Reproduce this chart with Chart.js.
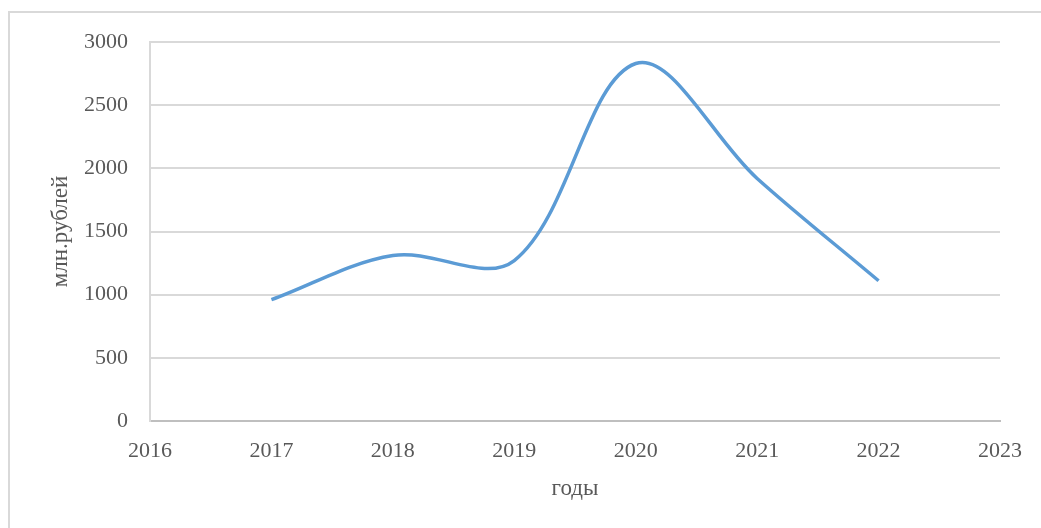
<!DOCTYPE html>
<html>
<head>
<meta charset="utf-8">
<script src="https://cdn.jsdelivr.net/npm/chart.js@4"></script>
<style>
  html, body { margin: 0; padding: 0; background: #fff; }
  #wrap { position: relative; width: 1041px; height: 528px; }
  #frame { position: absolute; left: 8px; top: 11px; right: -5px; bottom: -5px; border: 2px solid #d9d9d9; }
  canvas { position: absolute; left: 0; top: 0; }
</style>
</head>
<body>
<div id="wrap">
  <div id="frame"></div>
  <canvas id="linechart" width="1041" height="528"></canvas>
</div>
<script>
// данные
var years = [2017, 2018, 2019, 2020, 2021, 2022];
var values = [960, 1310, 1270, 2830, 1920, 1110];
var yTicks = [0, 500, 1000, 1500, 2000, 2500, 3000];
var xTicks = [2016, 2017, 2018, 2019, 2020, 2021, 2022, 2023];

var points = years.map(function(y, i) { return { x: y, y: values[i] }; });
var font = { family: 'Liberation Serif', size: 22 };
var titleFont = { family: 'Liberation Serif', size: 23 };

var ctx = document.getElementById('linechart').getContext('2d');
var myChart = new Chart(ctx, {
  type: 'line',
  data: {
    datasets: [{
      data: points,
      borderColor: '#5b9bd5',
      borderWidth: 3.5,
      pointRadius: 0,
      tension: 0.35,
      fill: false
    }]
  },
  options: {
    responsive: false,
    animation: false,
    layout: { padding: { top: 42, right: 41, left: 0, bottom: 0 } },
    plugins: { legend: { display: false }, tooltip: { enabled: false } },
    scales: {
      x: {
        type: 'linear',
        min: xTicks[0],
        max: xTicks[xTicks.length - 1],
        afterBuildTicks: function(s) { s.ticks = xTicks.map(function(v) { return { value: v }; }); },
        afterFit: function(s) { s.height = 107; },
        grid: { display: false, drawTicks: false },
        border: { display: true, color: '#bfbfbf', width: 2 },
        ticks: {
          color: '#595959', font: font, padding: 17, maxRotation: 0,
          callback: function(v) { return String(v); }
        },
        title: { display: true, text: 'годы', color: '#595959', font: titleFont, padding: { top: 0, bottom: 25 } }
      },
      y: {
        min: 0,
        max: 3000,
        afterBuildTicks: function(s) { s.ticks = yTicks.map(function(v) { return { value: v }; }); },
        afterFit: function(s) { s.width = 150; },
        grid: { color: '#d9d9d9', lineWidth: 2, drawTicks: false },
        border: { display: true, color: '#d9d9d9', width: 2 },
        ticks: {
          color: '#595959', font: font, padding: 22,
          callback: function(v) { return String(v); }
        },
        title: { display: true, text: 'млн.рублей', color: '#595959', font: titleFont, padding: { top: 47, bottom: 0 } }
      }
    }
  }
});
</script>
</body>
</html>
